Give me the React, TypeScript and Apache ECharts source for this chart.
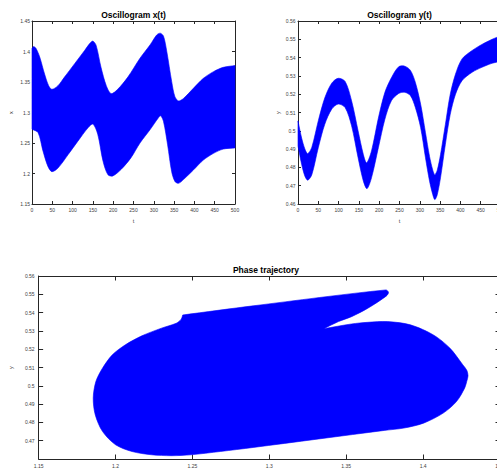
import React, { useEffect, useRef } from "react";
import * as echarts from "echarts";

// x(t) envelopes
const xUpperT = [0, 4, 10, 19, 31, 41, 49, 64, 80, 105, 130, 142, 150, 158, 170, 183, 195, 211, 236, 266, 291, 307, 316, 324, 332, 344, 352, 361, 373, 398, 422, 447, 471, 500];
const xUpperV = [1.405, 1.408, 1.405, 1.391, 1.363, 1.344, 1.338, 1.344, 1.358, 1.38, 1.402, 1.413, 1.417, 1.41, 1.374, 1.344, 1.331, 1.338, 1.358, 1.389, 1.411, 1.427, 1.43, 1.425, 1.4, 1.351, 1.326, 1.319, 1.323, 1.34, 1.356, 1.367, 1.374, 1.377];
const xLowerT = [0, 15, 27, 39, 49, 64, 89, 113, 138, 150, 162, 175, 187, 199, 220, 244, 266, 291, 311, 317, 324, 334, 344, 352, 361, 373, 398, 422, 447, 471, 500];
const xLowerV = [1.2725, 1.267, 1.237, 1.212, 1.203, 1.209, 1.231, 1.253, 1.275, 1.281, 1.264, 1.22, 1.198, 1.196, 1.207, 1.226, 1.25, 1.272, 1.291, 1.2945, 1.285, 1.247, 1.203, 1.187, 1.184, 1.19, 1.206, 1.222, 1.233, 1.24, 1.242];

// y(t) envelopes
const yUpperT = [0, 9, 17, 24, 34, 50, 66, 83, 99, 116, 132, 148, 161, 169, 181, 198, 214, 230, 248, 263, 277, 289, 302, 314, 324, 332, 337, 343, 351, 363, 375, 388, 404, 429, 453, 478, 500];
const yUpperV = [0.5054, 0.496, 0.49, 0.4875, 0.491, 0.5055, 0.518, 0.526, 0.5287, 0.527, 0.5164, 0.5, 0.487, 0.4825, 0.489, 0.507, 0.521, 0.529, 0.535, 0.5353, 0.533, 0.5265, 0.5146, 0.499, 0.486, 0.4785, 0.476, 0.4785, 0.487, 0.5035, 0.52, 0.531, 0.5393, 0.5439, 0.5472, 0.55, 0.552];
const yLowerT = [0, 9, 17, 24, 34, 50, 66, 83, 99, 116, 132, 148, 161, 170, 181, 198, 214, 230, 248, 263, 277, 289, 302, 314, 324, 332, 337, 343, 351, 363, 375, 388, 404, 429, 453, 478, 500];
const yLowerV = [0.4917, 0.4816, 0.4752, 0.473, 0.476, 0.4908, 0.5036, 0.5118, 0.5146, 0.5127, 0.5027, 0.4853, 0.4725, 0.4684, 0.4743, 0.4908, 0.5063, 0.5164, 0.5204, 0.521, 0.5192, 0.5128, 0.5018, 0.4853, 0.4725, 0.4651, 0.4624, 0.4651, 0.4743, 0.4926, 0.509, 0.52, 0.5274, 0.532, 0.5347, 0.5369, 0.538];

// phase trajectory outline
const phaseX = [1.2437, 1.2895, 1.3758, 1.3775, 1.376, 1.3641, 1.3535, 1.345, 1.3354, 1.3535, 1.3641, 1.3769, 1.3918, 1.4067, 1.4174, 1.4259, 1.4284, 1.4292, 1.4284, 1.427, 1.4217, 1.4131, 1.4003, 1.3875, 1.3747, 1.2895, 1.2682, 1.249, 1.2363, 1.2235, 1.2107, 1.2, 1.1915, 1.1868, 1.1855, 1.1872, 1.1915, 1.1979, 1.2064, 1.2171, 1.2299, 1.2395, 1.2427];
const phaseY = [0.5387, 0.5437, 0.5524, 0.551, 0.549, 0.5424, 0.5378, 0.5351, 0.5312, 0.5338, 0.5347, 0.5351, 0.5333, 0.5278, 0.5206, 0.5114, 0.5085, 0.5055, 0.5025, 0.4987, 0.4914, 0.4851, 0.4796, 0.4769, 0.4756, 0.4663, 0.4641, 0.4623, 0.4618, 0.4623, 0.4641, 0.4678, 0.4751, 0.4842, 0.4933, 0.5023, 0.5096, 0.5169, 0.5224, 0.5273, 0.5315, 0.5342, 0.5364];

const titles = ["Oscillogram x(t)", "Oscillogram y(t)", "Phase trajectory"];

const FONT = "Liberation Sans";
const AX = "#262626";
const BLUE = "#0000ff";

function polySeries(xi: number, xs: number[], ys: number[], corners: number[]) {
  return {
    type: "custom",
    xAxisIndex: xi,
    yAxisIndex: xi,
    silent: true,
    data: xs.map((x, i) => [x, ys[i]]),
    encode: { x: 0, y: 1 },
    renderItem: (params: any, api: any) => {
      if (params.dataIndex !== 0) return null;
      const pts: number[][] = [];
      xs.forEach((x, i) => {
        const p = api.coord([x, ys[i]]);
        pts.push(p);
        if (corners.indexOf(i) >= 0) pts.push([p[0], p[1]]);
      });
      return {
        type: "polygon",
        shape: { points: pts, smooth: 0.3 },
        style: { fill: BLUE, stroke: BLUE, lineWidth: 0.6 },
      };
    },
  };
}

function band(tu: number[], vu: number[], tl: number[], vl: number[]) {
  const xs = [...tu, ...[...tl].reverse()];
  const ys = [...vu, ...[...vl].reverse()];
  const corners = [0, tu.length - 1, tu.length, xs.length - 1];
  return { xs, ys, corners };
}

export default function App() {
  const ref = useRef<HTMLDivElement>(null);
  useEffect(() => {
    if (!ref.current) return;
    const chart = echarts.init(ref.current, undefined, { renderer: "svg" });

    const grids = [
      { left: 32, top: 21, width: 203, height: 183 },
      { left: 298, top: 21, width: 203, height: 183 },
      { left: 32, top: 276, width: 468, height: 183 },
    ];
    const xCfg = [
      { min: 0, max: 500, interval: 50, name: "t", tick: 3 },
      { min: 0, max: 500, interval: 50, name: "t", tick: 3 },
      { min: 1.15, max: 1.45, interval: 0.05, name: "", tick: 4.5 },
    ];
    const yCfg = [
      { min: 1.15, max: 1.45, interval: 0.05, name: "x", gap: 18, tick: 3, showMin: true, margin: 2 },
      { min: 0.46, max: 0.56, interval: 0.01, name: "y", gap: 17, tick: 3, showMin: true, margin: 2.5 },
      { min: 0.46, max: 0.56, interval: 0.01, name: "y", gap: 17, tick: 4.5, showMin: false, margin: 4 },
    ];

    const xAxes: any[] = [];
    const yAxes: any[] = [];
    for (let g = 0; g < 3; g++) {
      const xc = xCfg[g];
      const yc = yCfg[g];
      xAxes.push({
        type: "value",
        gridIndex: g,
        position: "bottom",
        min: xc.min,
        max: xc.max,
        interval: xc.interval,
        name: xc.name,
        nameLocation: "middle",
        nameGap: 14,
        nameTextStyle: { fontFamily: FONT, fontSize: 5.5, color: "#404040" },
        axisLine: { show: true, onZero: false, lineStyle: { color: AX, width: 1 } },
        axisTick: { show: true, inside: true, length: xc.tick, lineStyle: { color: AX } },
        axisLabel: { fontFamily: FONT, fontSize: 5, color: "#404040", margin: g === 2 ? 4 : 3 },
        splitLine: { show: false },
      });
      xAxes.push({
        type: "value",
        gridIndex: g,
        position: "top",
        min: xc.min,
        max: xc.max,
        interval: xc.interval,
        axisLine: { show: true, onZero: false, lineStyle: { color: AX, width: 1 } },
        axisTick: { show: true, inside: true, length: xc.tick, lineStyle: { color: AX } },
        axisLabel: { show: false },
        splitLine: { show: false },
      });
      yAxes.push({
        type: "value",
        gridIndex: g,
        position: "left",
        min: yc.min,
        max: yc.max,
        interval: yc.interval,
        name: yc.name,
        nameLocation: "middle",
        nameGap: yc.gap,
        nameRotate: 90,
        nameTextStyle: { fontFamily: FONT, fontSize: 5.5, color: "#404040" },
        axisLine: { show: true, onZero: false, lineStyle: { color: AX, width: 1 } },
        axisTick: { show: true, inside: true, length: yc.tick, lineStyle: { color: AX } },
        axisLabel: { fontFamily: FONT, fontSize: 5, color: "#404040", margin: yc.margin, showMinLabel: yc.showMin },
        splitLine: { show: false },
      });
      yAxes.push({
        type: "value",
        gridIndex: g,
        position: "right",
        min: yc.min,
        max: yc.max,
        interval: yc.interval,
        axisLine: { show: true, onZero: false, lineStyle: { color: AX, width: 1 } },
        axisTick: { show: true, inside: true, length: yc.tick, lineStyle: { color: AX } },
        axisLabel: { show: false },
        splitLine: { show: false },
      });
    }

    const b1 = band(xUpperT, xUpperV, xLowerT, xLowerV);
    const b2 = band(yUpperT, yUpperV, yLowerT, yLowerV);

    const series: any[] = [
      polySeries(0, b1.xs, b1.ys, b1.corners),
      polySeries(2, b2.xs, b2.ys, b2.corners),
      polySeries(4, phaseX, phaseY, [0, 8]),
    ];

    const titleCenters = [
      { x: 133.5, y: 15 },
      { x: 399.5, y: 15 },
      { x: 266, y: 270 },
    ];

    chart.setOption({
      animation: false,
      backgroundColor: "#ffffff",
      title: titles.map((t, i) => ({
        text: t,
        left: titleCenters[i].x,
        top: titleCenters[i].y - 5,
        textAlign: "center",
        padding: 0,
        textStyle: { fontFamily: FONT, fontSize: 8.5, fontWeight: "bold", color: "#000000" },
      })),
      grid: grids,
      xAxis: xAxes,
      yAxis: yAxes,
      series,
    });
    return () => chart.dispose();
  }, []);

  return (
    <div
      ref={ref}
      style={{ position: "fixed", left: 0, top: 0, width: 510, height: 473, background: "#fff" }}
    />
  );
}
